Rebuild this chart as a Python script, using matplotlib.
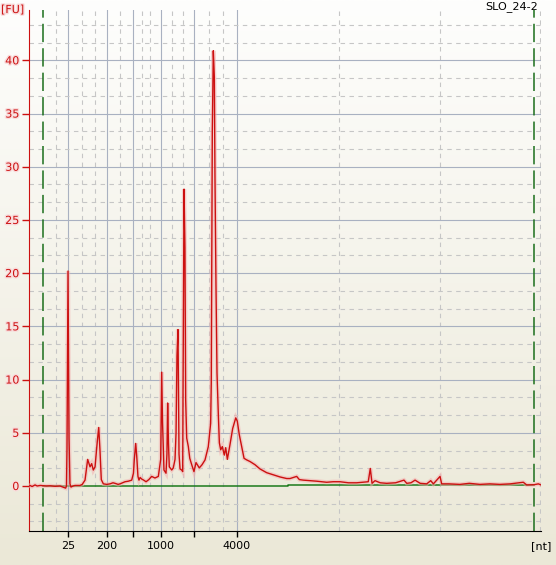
"""Electropherogram of sample SLO_24-2 (fluorescence vs. size)."""

import matplotlib
matplotlib.use("Agg")
import matplotlib.pyplot as plt
import matplotlib.patheffects as pe
import numpy as np
from matplotlib.colors import LinearSegmentedColormap

# migration time (s) and fluorescence (FU)
TIME_S = [
    19.00, 19.10, 19.30, 19.59, 19.80, 20.10, 20.37, 20.70, 21.05, 21.54,
    22.03, 22.32, 22.58, 22.66, 22.71, 22.81, 22.91, 23.00, 23.10, 23.30,
    23.49, 23.98, 24.20, 24.47, 24.60, 24.73, 24.96, 25.12, 25.28, 25.45,
    25.67, 25.81, 25.93, 26.06, 26.26, 26.60, 26.91, 27.20, 27.40, 27.70,
    27.89, 28.38, 28.70, 29.03, 29.20, 29.28, 29.42, 29.52, 29.64, 29.74,
    29.85, 30.01, 30.20, 30.43, 30.70, 30.98, 31.30, 31.63, 31.86, 31.96,
    32.04, 32.18, 32.38, 32.47, 32.54, 32.62, 32.70, 32.94, 33.09, 33.26,
    33.36, 33.45, 33.55, 33.65, 33.75, 33.91, 34.01, 34.04, 34.14, 34.23,
    34.30, 34.40, 34.56, 34.70, 34.89, 35.11, 35.31, 35.63, 35.90, 36.19,
    36.51, 36.74, 36.80, 36.90, 37.00, 37.10, 37.16, 37.26, 37.36, 37.49,
    37.59, 37.72, 37.88, 38.07, 38.21, 38.37, 38.63, 38.89, 39.19, 39.34,
    39.54, 39.77, 40.00, 40.26, 40.58, 41.07, 41.56, 42.21, 42.86, 43.51,
    44.17, 44.49, 45.14, 45.40, 45.79, 46.50, 47.10, 48.07, 48.70, 49.37,
    50.20, 51.00, 51.60, 52.13, 52.33, 52.50, 52.79, 53.30, 53.93, 54.80,
    55.62, 55.89, 56.30, 56.70, 57.20, 57.84, 58.23, 58.49, 59.14, 59.30,
    60.00, 61.09, 62.00, 63.04, 64.00, 64.99, 66.00, 67.27, 67.60, 68.32,
    68.74, 69.00,
]
FU = [
    0.00, 0.05, -0.05, 0.10, 0.00, 0.05, 0.03, 0.00, 0.02, -0.03,
    0.00, -0.10, -0.20, 0.00, 3.50, 20.2, 4.50, 0.20, -0.10, 0.00,
    0.05, 0.05, 0.15, 0.55, 1.50, 2.50, 1.80, 2.10, 1.50, 1.80,
    4.20, 5.50, 3.40, 0.60, 0.20, 0.15, 0.20, 0.30, 0.25, 0.15,
    0.20, 0.40, 0.45, 0.55, 1.20, 2.45, 4.00, 2.80, 0.90, 0.55,
    0.80, 0.65, 0.55, 0.40, 0.60, 0.90, 0.75, 0.90, 2.50, 10.7,
    6.00, 1.50, 1.20, 3.00, 7.80, 4.00, 1.80, 1.50, 1.70, 2.50,
    5.00, 12.2, 14.7, 3.00, 1.60, 1.50, 1.35, 8.40, 27.9, 22.4,
    8.10, 4.50, 3.70, 2.60, 2.00, 1.35, 2.20, 1.70, 2.00, 2.45,
    3.70, 5.90, 9.70, 33.2, 40.9, 38.4, 29.2, 18.8, 10.6, 6.70,
    4.05, 3.40, 3.70, 2.90, 3.60, 2.50, 3.90, 5.40, 6.40, 6.10,
    4.80, 3.70, 2.60, 2.45, 2.30, 2.00, 1.60, 1.25, 1.05, 0.85,
    0.70, 0.70, 0.90, 0.60, 0.55, 0.50, 0.45, 0.35, 0.40, 0.40,
    0.30, 0.30, 0.35, 0.40, 1.65, 0.25, 0.50, 0.30, 0.25, 0.30,
    0.55, 0.25, 0.30, 0.55, 0.25, 0.20, 0.50, 0.20, 0.90, 0.20,
    0.20, 0.15, 0.25, 0.15, 0.20, 0.15, 0.20, 0.35, 0.10, 0.12,
    0.20, 0.10,
]

# ladder sizes and where they sit on the time axis
LADDER_TIME = [22.81, 26.62, 29.16, 31.89, 35.11, 39.31]
LADDER_LABELS = ["25", "200", "", "1000", "", "4000"]
MINOR_TIME = [21.61, 24.15, 25.42, 27.89, 30.00, 30.85, 32.96, 34.07,
              36.55, 37.92, 49.24, 59.14, 68.93]
MARKER_TIME = [20.37, 68.35]
BASELINE_TIME = [20.37, 44.30, 44.30, 68.35]
BASELINE_FU = [0.0, 0.0, 0.1, 0.1]
FU_TICKS = [0, 5, 10, 15, 20, 25, 30, 35, 40]

RED = "#cc1010"
W, H = 556, 565

fig = plt.figure(figsize=(W / 100, H / 100), dpi=100)

# window background: white at the top fading to beige
bg = fig.add_axes([0, 0, 1, 1], zorder=0)
grad = np.linspace(0, 1, 256).reshape(-1, 1)
cmap = LinearSegmentedColormap.from_list("bg", ["#ebe8d7", "#fefefd"])
bg.imshow(grad, aspect="auto", cmap=cmap, origin="lower", extent=[0, 1, 0, 1])
bg.axis("off")

ax = fig.add_axes([29 / W, 34 / H, 512 / W, 521 / H], zorder=1)
ax.patch.set_alpha(0)
ax.set_xlim(19, 69)
ax.set_ylim(-4.23, 44.73)

# grid
for t in LADDER_TIME:
    ax.axvline(t, color="#a9b1c1", lw=0.8, zorder=1)
for t in MINOR_TIME:
    ax.axvline(t, color="#c6c6c6", lw=0.8, ls=(0, (4, 4)), zorder=1)
for v in np.arange(5, 45, 5):
    ax.axhline(v, color="#a9b1c1", lw=0.8, zorder=1)
for k in range(-2, 27):
    if k % 3:
        ax.axhline(k * 5 / 3, color="#c6c6c6", lw=0.8, ls=(0, (4, 4)), zorder=1)

for t in MARKER_TIME:
    ax.axvline(t, color="#1b6e1b", lw=1.1, ls=(0, (12, 4)), zorder=2)

ax.plot(BASELINE_TIME, BASELINE_FU, color="#1b7a1b", lw=1.1, zorder=3)

ax.plot(TIME_S, FU, color="#f3b0b0", lw=3.0, alpha=0.55, zorder=4,
        solid_joinstyle="miter")
ax.plot(TIME_S, FU, color=RED, lw=1.0, zorder=5)

# axes styling
for s in ["top", "right"]:
    ax.spines[s].set_visible(False)
ax.spines["left"].set_color(RED)
ax.spines["bottom"].set_color("black")

ax.set_xticks(LADDER_TIME)
ax.set_xticklabels(LADDER_LABELS)
ax.set_yticks(FU_TICKS)
ax.set_yticklabels([str(v) for v in FU_TICKS])
ax.tick_params(axis="x", length=4, width=1, color="black", labelsize=8, pad=3)
ax.tick_params(axis="y", length=5, width=1, color=RED, labelcolor=RED,
               labelsize=8, pad=2)
for lab in ax.get_yticklabels():
    lab.set_path_effects([pe.withStroke(linewidth=2, foreground="#f8dcdc")])

fig.text(1 / W, 1 - 10 / H, "[FU]", color=RED, fontsize=8, va="center", ha="left",
         path_effects=[pe.withStroke(linewidth=2, foreground="#f8dcdc")])
fig.text(538 / W, 1 - 7 / H, "SLO_24-2", color="black", fontsize=8,
         va="center", ha="right")
fig.text(541 / W, 1 - 546 / H, "[nt]", color="black", fontsize=8,
         va="center", ha="center")

fig.savefig("out.png", dpi=100)
